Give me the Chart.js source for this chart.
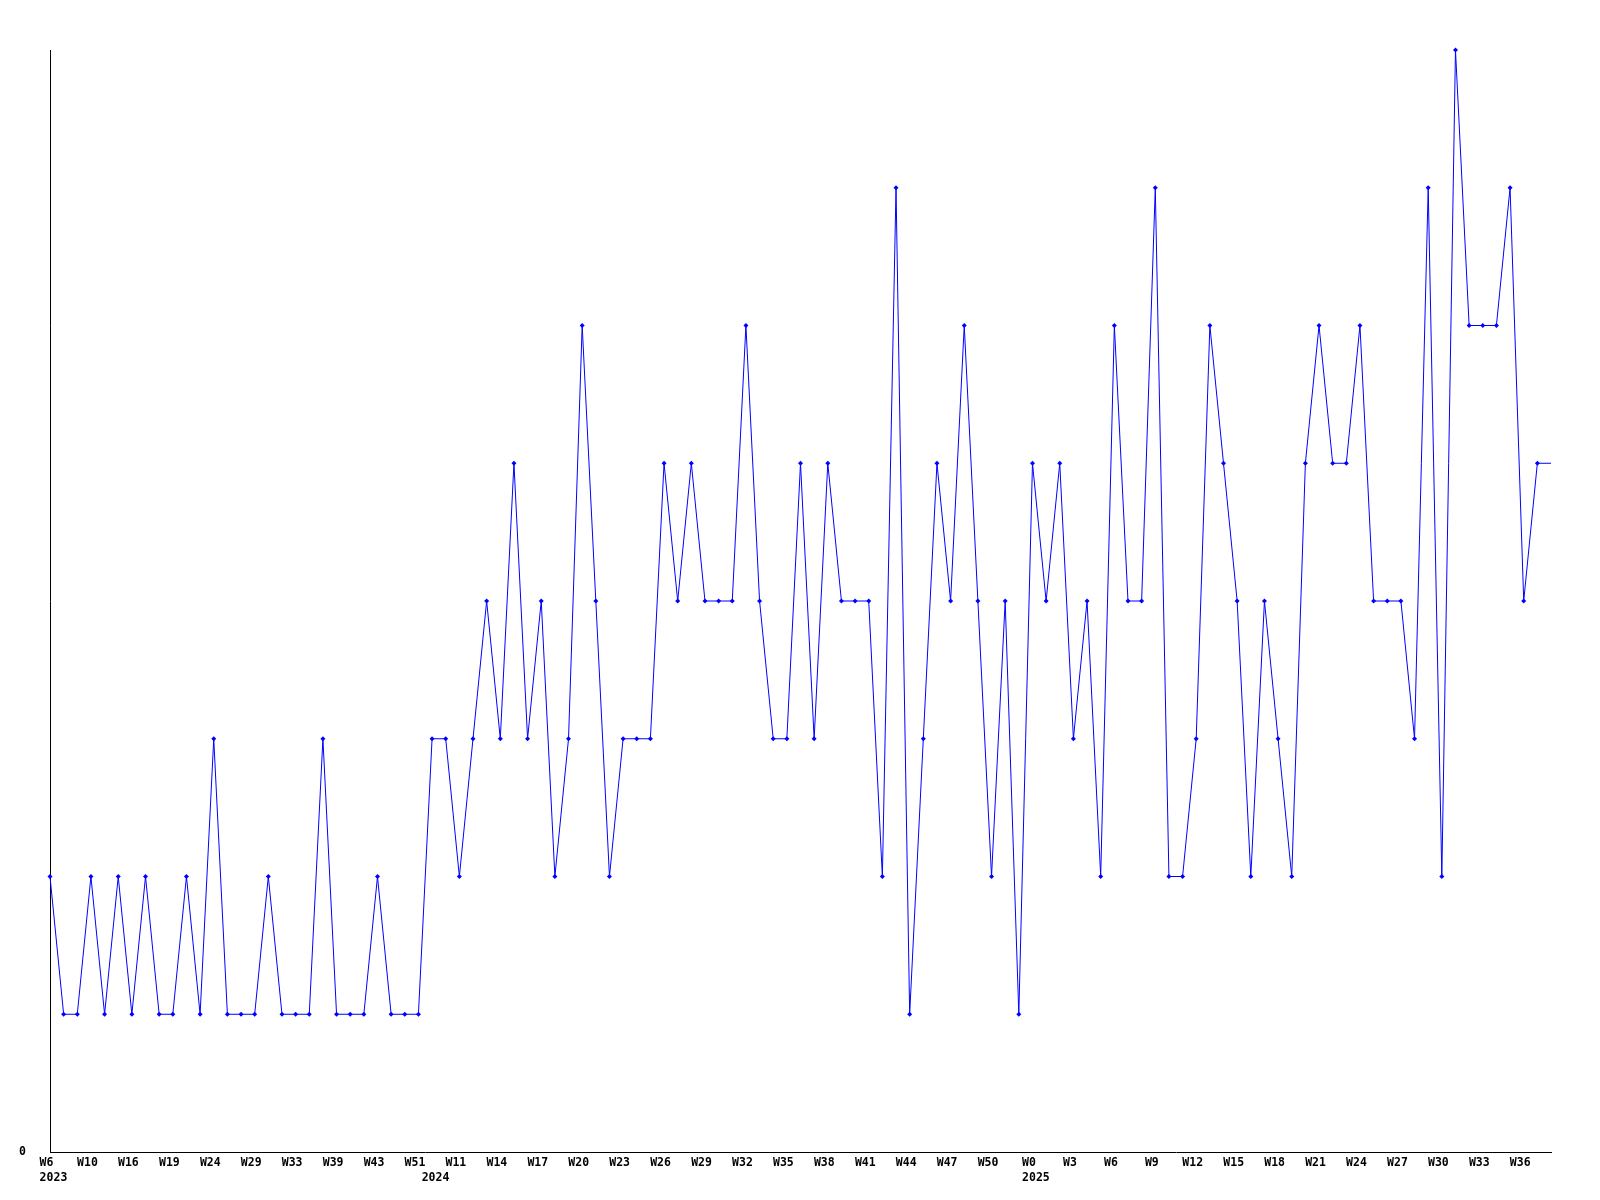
<!DOCTYPE html>
<html>
<head>
<meta charset="utf-8">
<script src="https://cdn.jsdelivr.net/npm/chart.js@4/dist/chart.umd.min.js"></script>
<style>
body{margin:0;background:#fff;}
#wrap{width:1600px;height:1200px;}
</style>
</head>
<body>
<div id="wrap"><canvas id="weekChart" width="1600" height="1200"></canvas></div>
<script>

// one label every third point
const weekTicks = [
"W6","W10","W16","W19","W24","W29","W33","W39","W43","W51",
"W11","W14","W17","W20","W23","W26","W29","W32","W35","W38","W41","W44","W47","W50",
"W0","W3","W6","W9","W12","W15","W18","W21","W24","W27","W30","W33","W36"
];

const yearNames = ["2023","2024","2025"];
const yearStart = [0, 28, 72];

const counts = [
2,1,1,2,1,2,1,2,1,1,
2,1,3,1,1,1,2,1,1,1,
3,1,1,1,2,1,1,1,3,3,
2,3,4,3,5,3,4,2,3,6,
4,2,3,3,3,5,4,5,4,4,
4,6,4,3,3,5,3,5,4,4,
4,2,7,1,3,5,4,6,4,2,
4,1,5,4,5,3,4,2,6,4,
4,7,2,2,3,6,5,4,2,4,
3,2,5,6,5,5,6,4,4,4,
3,7,2,8,6,6,6,7,4,5,
5
];

let font = {family:"'DejaVu Sans Mono', monospace", size:11.5, weight:"bold", lineHeight:1.3};

// week names sit a bit left of the point, years a bit right
function tickText(value, index){
let w = index % 3 === 0 ? weekTicks[index / 3] + " " : "";
let y = yearStart.indexOf(index);
if(y >= 0) return [w, " " + yearNames[y]];
return w;
}

new Chart(document.getElementById("weekChart"),{

type:'line',

data:{
labels: counts.map((c,i) => i),
datasets:[{
data: counts,
borderColor:"#0000ff",
backgroundColor:"#0000ff",
borderWidth:1,
pointStyle:'rectRot',
pointRadius: counts.map((c,i) => i === counts.length - 1 ? 0 : 2.5),
pointBorderWidth:0,
tension:0,
clip:false
}]
},

options:{
responsive:false,
animation:false,
layout:{padding:{top:50,right:49,left:0,bottom:0}},
plugins:{legend:{display:false},tooltip:{enabled:false}},
scales:{
x:{
offset:false,
grid:{display:false,drawTicks:false},
border:{display:true,color:"#000",width:1},
ticks:{
autoSkip:false,
maxRotation:0,
minRotation:0,
padding:4,
color:"#000",
font:font,
callback:tickText
},
afterFit(scale){ scale.height = 48; }
},
y:{
min:0,
max:8,
grid:{display:false,drawTicks:false},
border:{display:true,color:"#000",width:1},
ticks:{
stepSize:8,
padding:24,
color:"#000",
font:font,
callback:(v) => v === 0 ? "0" : ""
},
afterFit(scale){ scale.width = 50; }
}
}
}

});
</script>
</body>
</html>
